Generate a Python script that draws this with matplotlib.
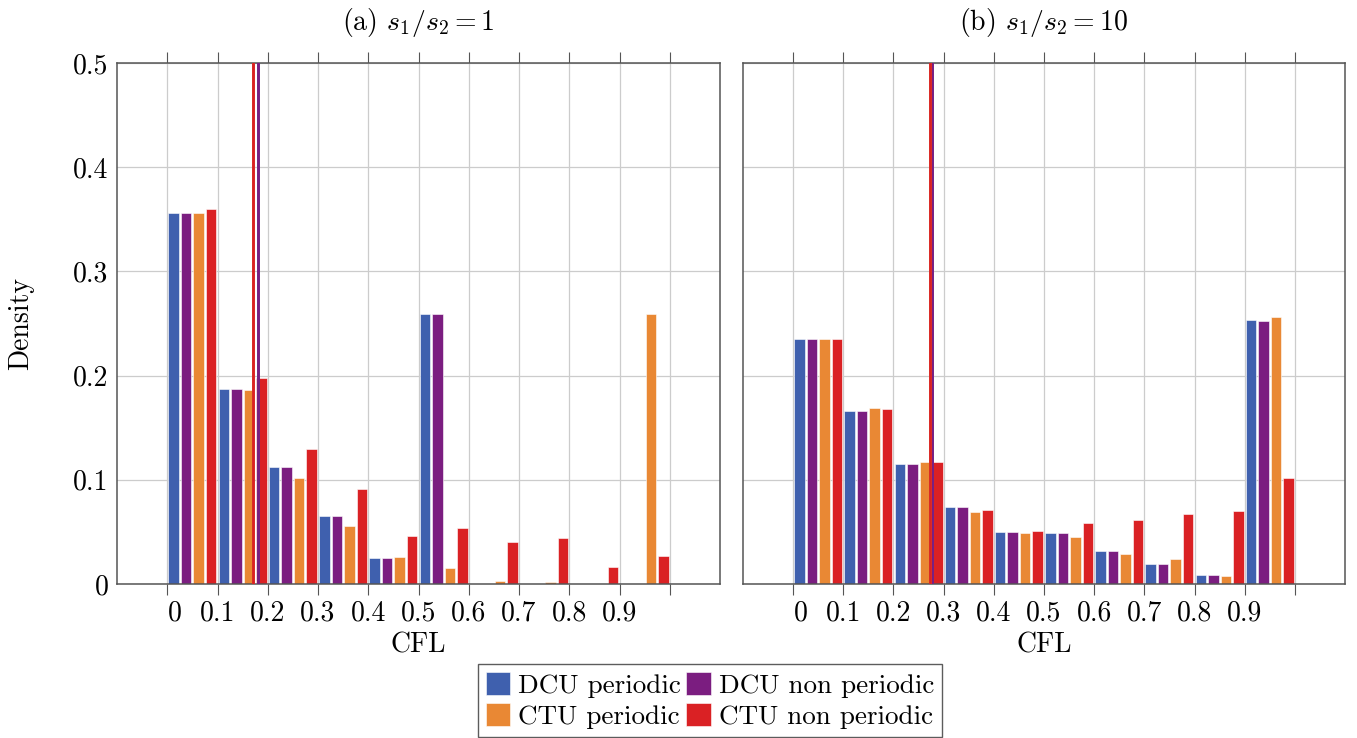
import matplotlib
matplotlib.use('Agg')
import matplotlib.pyplot as plt
import matplotlib.transforms as mtransforms
import numpy as np

plt.rcParams['font.family'] = ['cmr10', 'DejaVu Serif']
plt.rcParams['mathtext.fontset'] = 'cm'
plt.rcParams['axes.formatter.use_mathtext'] = True

# histogram bins (left edges) of the CFL
bins = [0.0, 0.1, 0.2, 0.3, 0.4, 0.5, 0.6, 0.7, 0.8, 0.9]
series = ['DCU periodic', 'DCU non periodic', 'CTU periodic', 'CTU non periodic']
colors = ['#3f60ae', '#7b1d80', '#e98834', '#da2124']

# (a) s1/s2 = 1
dens_a = {
    'DCU periodic':     [0.356, 0.187, 0.112, 0.065, 0.025, 0.259, 0.0, 0.0, 0.0, 0.0],
    'DCU non periodic': [0.356, 0.187, 0.112, 0.065, 0.025, 0.259, 0.0, 0.0, 0.0, 0.0],
    'CTU periodic':     [0.356, 0.186, 0.102, 0.056, 0.026, 0.015, 0.003, 0.002, 0.0, 0.259],
    'CTU non periodic': [0.360, 0.198, 0.130, 0.091, 0.046, 0.054, 0.040, 0.044, 0.016, 0.027],
}
mean_a = [0.180, 0.180, 0.170, 0.170]

# (b) s1/s2 = 10
dens_b = {
    'DCU periodic':     [0.235, 0.166, 0.115, 0.074, 0.050, 0.049, 0.032, 0.019, 0.009, 0.253],
    'DCU non periodic': [0.235, 0.166, 0.115, 0.074, 0.050, 0.049, 0.032, 0.019, 0.009, 0.252],
    'CTU periodic':     [0.235, 0.169, 0.117, 0.069, 0.049, 0.045, 0.029, 0.024, 0.008, 0.256],
    'CTU non periodic': [0.235, 0.168, 0.117, 0.071, 0.051, 0.059, 0.061, 0.067, 0.070, 0.102],
}
mean_b = [0.277, 0.277, 0.273, 0.273]

xtick_pos = [0.0, 0.1, 0.2, 0.3, 0.4, 0.5, 0.6, 0.7, 0.8, 0.9, 1.0]
xtick_lab = ['0', '0.1', '0.2', '0.3', '0.4', '0.5', '0.6', '0.7', '0.8', '0.9', '']
ytick_pos = [0, 0.1, 0.2, 0.3, 0.4, 0.5]
ytick_lab = ['0', '0.1', '0.2', '0.3', '0.4', '0.5']

fig = plt.figure(figsize=(13.57, 7.38), dpi=100)
ax1 = fig.add_axes([117/1357, 1-584/738, 603/1357, 521/738])
ax2 = fig.add_axes([743/1357, 1-584/738, 602/1357, 521/738])

fs = 20
edge = '#555555'


def draw(ax, dens, means, title):
    b = np.array(bins)
    for i, s in enumerate(series):
        ax.bar(b + 0.0125 + 0.025*i, dens[s], width=0.021, color=colors[i],
               edgecolor='white', linewidth=0.4, label=s, zorder=2)
    for i, m in enumerate(means):
        ax.axvline(m, color=colors[i], linewidth=2, zorder=3)
    ax.set_xlim(-0.1, 1.1)
    ax.set_ylim(0, 0.5)
    ax.set_xticks(xtick_pos)
    ax.set_xticklabels(xtick_lab, fontsize=fs)
    ax.set_yticks(ytick_pos)
    ax.grid(True, color='#cccccc', linewidth=0.9, zorder=0)
    ax.set_axisbelow(True)
    ax.tick_params(axis='x', direction='out', length=8, width=0.8, color=edge,
                   top=True, pad=4)
    ax.tick_params(axis='y', length=0, pad=6)
    for sp in ax.spines.values():
        sp.set_color(edge)
        sp.set_linewidth(1.1)
    ax.set_xlabel('CFL', fontsize=fs, labelpad=4)
    ax.set_title(title, fontsize=fs, pad=24)
    # first tick label sits a bit right of its tick
    lab0 = ax.get_xticklabels()[0]
    lab0.set_transform(lab0.get_transform() +
                       mtransforms.ScaledTranslation(8/100, 0, fig.dpi_scale_trans))


draw(ax1, dens_a, mean_a, r'(a) $s_1/s_2 = 1$')
draw(ax2, dens_b, mean_b, r'(b) $s_1/s_2 = 10$')

ax1.set_yticklabels(ytick_lab, fontsize=fs)
ax1.set_ylabel('Density', fontsize=fs, labelpad=28)
ax2.set_yticklabels([])

# legend filled row-wise like the original
h, l = ax1.get_legend_handles_labels()
order = [0, 2, 1, 3]
leg = fig.legend([h[k] for k in order], [l[k] for k in order], loc='upper center',
                 bbox_to_anchor=(710/1357, 1-664/738), borderaxespad=0,
                 ncol=2, fontsize=19.5, frameon=True, fancybox=False, edgecolor='#333333',
                 handlelength=0.9, handleheight=0.9, handletextpad=0.3, columnspacing=0.2,
                 labelspacing=0.2, borderpad=0.3)
leg.get_frame().set_linewidth(1.0)

fig.savefig('out.png', dpi=100)
